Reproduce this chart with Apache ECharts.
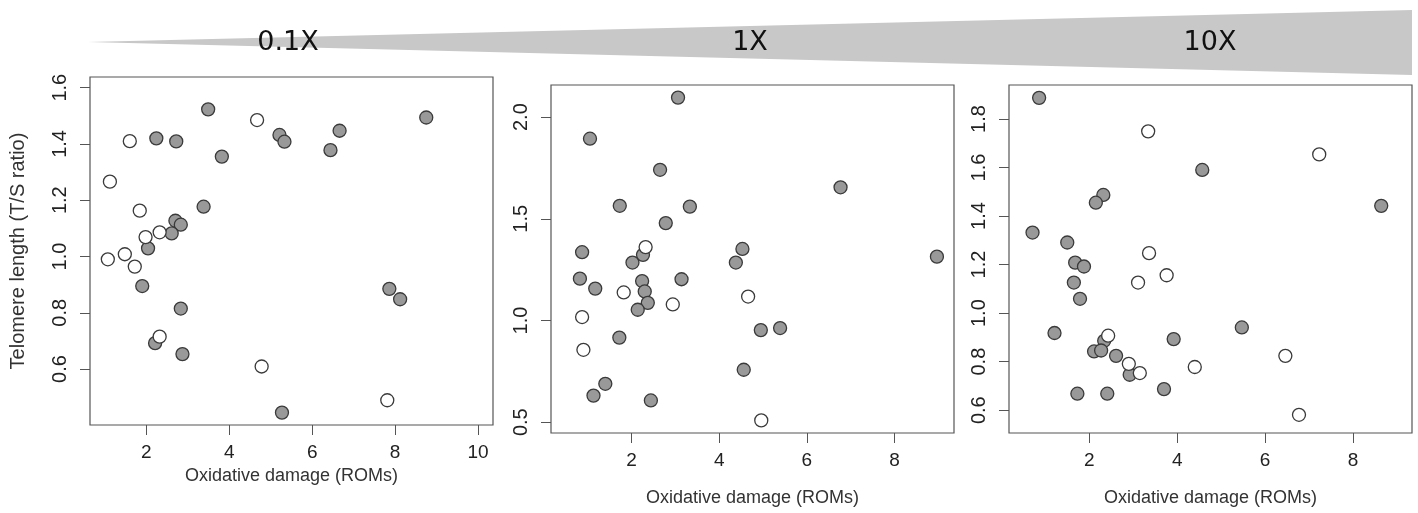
<!DOCTYPE html>
<html>
<head>
<meta charset="utf-8">
<script src="https://cdn.jsdelivr.net/npm/echarts@6/dist/echarts.min.js"></script>
<style>
  html, body { margin: 0; padding: 0; background: #fff; }
  #telomere { width: 1418px; height: 513px; }
</style>
</head>
<body>
<div id="telomere"></div>
<script>
// tick labels
var xTicksLow = [2, 4, 6, 8, 10];
var xTicks = [2, 4, 6, 8];
var yTicksLow = [0.6, 0.8, 1.0, 1.2, 1.4, 1.6];
var yTicksMid = [0.5, 1.0, 1.5, 2.0];
var yTicksHigh = [0.6, 0.8, 1.0, 1.2, 1.4, 1.6, 1.8];
var doseLabels = ['0.1X', '1X', '10X'];

// 0.1X  [ROMs, T/S]
var lowFilled = [[2.24, 1.42], [2.72, 1.409], [3.49, 1.523], [5.21, 1.432], [5.33, 1.408], [3.82, 1.355],
    [3.38, 1.177], [2.70, 1.127], [2.83, 1.113], [2.61, 1.082], [2.04, 1.029], [1.90, 0.895], [2.83, 0.815],
    [2.21, 0.692], [2.87, 0.653], [5.27, 0.445], [8.75, 1.494], [6.66, 1.447], [6.44, 1.378], [7.86, 0.885],
    [8.12, 0.848]];
var lowOpen = [[1.12, 1.266], [1.60, 1.41], [4.67, 1.485], [1.84, 1.163], [2.32, 1.086], [1.98, 1.069],
    [1.48, 1.008], [1.07, 0.99], [1.72, 0.964], [2.32, 0.715], [4.78, 0.609], [7.81, 0.489]];

// 1X
var midFilled = [[3.06, 2.096], [1.05, 1.894], [2.65, 1.741], [1.73, 1.564], [3.33, 1.560], [2.78, 1.479],
    [0.87, 1.336], [2.26, 1.323], [2.02, 1.285], [0.82, 1.206], [1.17, 1.157], [2.24, 1.194], [2.30, 1.143],
    [2.37, 1.087], [2.14, 1.053], [3.14, 1.203], [1.72, 0.916], [1.40, 0.689], [1.13, 0.631], [2.44, 0.607],
    [6.77, 1.655], [4.53, 1.352], [4.38, 1.285], [8.97, 1.314], [4.95, 0.953], [5.39, 0.963], [4.56, 0.758]];
var midOpen = [[2.32, 1.361], [1.82, 1.138], [2.94, 1.079], [0.87, 1.017], [0.90, 0.856], [4.66, 1.118],
    [4.96, 0.509]];

// 10X
var highFilled = [[0.86, 1.887], [2.32, 1.487], [2.15, 1.455], [0.71, 1.332], [1.50, 1.291], [1.68, 1.208],
    [1.88, 1.192], [1.65, 1.126], [1.79, 1.059], [1.21, 0.918], [2.34, 0.886], [2.11, 0.842], [2.27, 0.846],
    [2.61, 0.824], [2.92, 0.746], [1.73, 0.668], [2.41, 0.668], [3.70, 0.687], [3.92, 0.893], [4.57, 1.590],
    [8.64, 1.442], [5.47, 0.941]];
var highOpen = [[3.34, 1.749], [3.36, 1.247], [3.76, 1.156], [3.11, 1.126], [2.43, 0.907], [2.90, 0.791],
    [3.15, 0.753], [7.23, 1.654], [6.46, 0.824], [4.40, 0.778], [6.77, 0.581]];

var FONT = '"Liberation Sans", Arial, sans-serif';

function xAx(idx, min, max, ticks, gap) {
    return {
        type: 'value', gridIndex: idx, min: min, max: max,
        splitLine: {show: false},
        axisLine: {show: false},
        axisTick: {show: true, length: 10, customValues: ticks, lineStyle: {color: '#555'}},
        axisLabel: {customValues: ticks, margin: 18, fontSize: 19, color: '#222', fontFamily: FONT},
        name: 'Oxidative damage (ROMs)', nameLocation: 'middle', nameGap: gap,
        nameTextStyle: {fontSize: 18, color: '#333', fontFamily: FONT}
    };
}
function yAx(idx, min, max, ticks) {
    return {
        type: 'value', gridIndex: idx, min: min, max: max,
        splitLine: {show: false},
        axisLine: {show: false},
        axisTick: {show: true, length: 10, customValues: ticks, lineStyle: {color: '#555'}},
        axisLabel: {customValues: ticks, rotate: 90, margin: 20, fontSize: 20, color: '#222', fontFamily: FONT,
            formatter: function (v) { return v.toFixed(1); }}
    };
}
function pts(data, xi, open) {
    return {
        type: 'scatter', xAxisIndex: xi, yAxisIndex: xi, data: data,
        symbol: 'circle', symbolSize: 13, silent: true,
        itemStyle: {color: open ? '#ffffff' : '#999999', borderColor: '#3a3a3a', borderWidth: 1.3, opacity: 1}
    };
}

var chart = echarts.init(document.getElementById('telomere'));
var yName = yAx(0, 0.401, 1.638, yTicksLow);
yName.name = 'Telomere length (T/S ratio)';
yName.nameLocation = 'middle';
yName.nameGap = 62;
yName.nameTextStyle = {fontSize: 20, color: '#333', fontFamily: FONT};

var option = {
    backgroundColor: '#fff',
    animation: false,
    grid: [
        {left: 90, top: 77, width: 403, height: 348, show: true, borderColor: '#555', borderWidth: 1.2},
        {left: 551, top: 85, width: 403, height: 348, show: true, borderColor: '#555', borderWidth: 1.2},
        {left: 1009, top: 85, width: 403, height: 348, show: true, borderColor: '#555', borderWidth: 1.2}
    ],
    xAxis: [
        xAx(0, 0.64, 10.36, xTicksLow, 28),
        xAx(1, 0.16, 9.36, xTicks, 56),
        xAx(2, 0.175, 9.34, xTicks, 56)
    ],
    yAxis: [
        yName,
        yAx(1, 0.447, 2.158, yTicksMid),
        yAx(2, 0.506, 1.94, yTicksHigh)
    ],
    // dose wedge across the top
    graphic: [
        {type: 'polygon', shape: {points: [[88, 42], [1412, 10], [1412, 75]]}, style: {fill: '#c8c8c8'}, z: 0},
        {type: 'text', x: 288, y: 43, style: {text: doseLabels[0], fontSize: 27, fill: '#111', fontFamily: '"DejaVu Sans", sans-serif', align: 'center', verticalAlign: 'middle'}},
        {type: 'text', x: 750, y: 43, style: {text: doseLabels[1], fontSize: 27, fill: '#111', fontFamily: '"DejaVu Sans", sans-serif', align: 'center', verticalAlign: 'middle'}},
        {type: 'text', x: 1210, y: 43, style: {text: doseLabels[2], fontSize: 27, fill: '#111', fontFamily: '"DejaVu Sans", sans-serif', align: 'center', verticalAlign: 'middle'}}
    ],
    series: [
        pts(lowFilled, 0, false), pts(lowOpen, 0, true),
        pts(midFilled, 1, false), pts(midOpen, 1, true),
        pts(highFilled, 2, false), pts(highOpen, 2, true)
    ]
};
chart.setOption(option);
</script>
</body>
</html>
